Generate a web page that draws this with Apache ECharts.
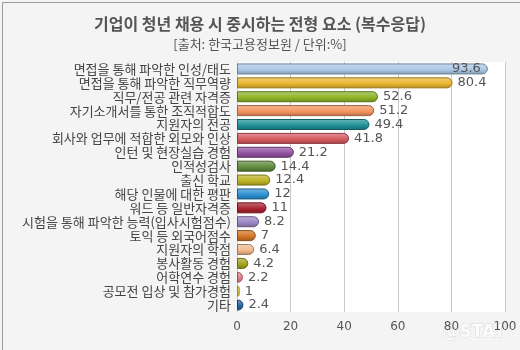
<!DOCTYPE html>
<html><head><meta charset="utf-8">
<script src="https://cdn.jsdelivr.net/npm/echarts@6/dist/echarts.min.js"></script>
<style>html,body{margin:0;padding:0;background:#f4f4f4}#c{width:520px;height:350px}</style>
</head><body><div id="c"></div>
<script>
const categories = ['면접을 통해 파악한 인성/태도','면접을 통해 파악한 직무역량','직무/전공 관련 자격증','자기소개서를 통한 조직적합도','지원자의 전공','회사와 업무에 적합한 외모와 인상','인턴 및 현장실습 경험','인적성검사','출신 학교','해당 인물에 대한 평판','워드 등 일반자격증','시험을 통해 파악한 능력(입사시험점수)','토익 등 외국어점수','지원자의 학점','봉사활동 경험','어학연수 경험','공모전 입상 및 참가경험','기타'];
const values = [93.6,80.4,52.6,51.2,49.4,41.8,21.2,14.4,12.4,12,11,8.2,7,6.4,4.2,2.2,1,2.4];
const colors = ['#a9c8e6','#e8b52c','#8db326','#f3935f','#1f9098','#d4595f','#92509e','#5f8a3c','#bcb223','#2a8fd0','#a8222f','#9a86c2','#d27424','#f2b88a','#a3a21e','#e77a89','#e9d83b','#2462a6'];
const tickLabels = [0,20,40,60,80,100];

function shade(hex, f){
  let r=parseInt(hex.slice(1,3),16),g=parseInt(hex.slice(3,5),16),b=parseInt(hex.slice(5,7),16);
  if(f>0){r+=(255-r)*f;g+=(255-g)*f;b+=(255-b)*f;}else{r*=1+f;g*=1+f;b*=1+f;}
  return 'rgb('+Math.round(r)+','+Math.round(g)+','+Math.round(b)+')';
}
const data = values.map((v,i)=>({
  value:v,
  itemStyle:{
    color:{type:'linear',x:0,y:0,x2:0,y2:1,colorStops:[
      {offset:0,color:shade(colors[i],0.35)},
      {offset:0.35,color:shade(colors[i],0.15)},
      {offset:0.6,color:colors[i]},
      {offset:1,color:shade(colors[i],-0.25)}]},
    borderColor:shade(colors[i],-0.35),borderWidth:1,borderRadius:[0,6,6,0]
  },
  label: i===0 ? {position:'insideRight',offset:[-2,0]} : undefined
}));
const chart = echarts.init(document.getElementById('c'),null,{renderer:'canvas'});
chart.setOption({
  backgroundColor:'#f4f4f4',
  animation:false,
  title:[
    {text:'기업이 청년 채용 시 중시하는 전형 요소 (복수응답)',left:'center',top:11,
     textStyle:{fontFamily:'Noto Sans CJK KR',fontSize:16,fontWeight:'bold',color:'#555'}},
    {text:'[출처: 한국고용정보원 / 단위:%]',left:'center',top:33,
     textStyle:{fontFamily:'Noto Sans CJK KR',fontSize:13,fontWeight:'normal',color:'#555'}}
  ],
  grid:{left:237,right:15,top:62,bottom:38,show:true,backgroundColor:'#ffffff',borderWidth:0},
  xAxis:{type:'value',min:0,max:100,interval:20,
    axisLine:{show:false},axisTick:{show:false},
    splitLine:{lineStyle:{color:'#c8c8c8',width:1}},
    axisLabel:{color:'#555',fontSize:12,fontFamily:'DejaVu Sans',margin:9,
      formatter:v=>tickLabels.includes(v)?String(v):''}},
  yAxis:{type:'category',data:categories,inverse:true,
    axisLine:{show:false},
    axisTick:{show:false},
    axisLabel:{color:'#444',fontSize:13,fontFamily:'Noto Sans CJK KR',margin:6,interval:0,lineHeight:13}},
  series:[{type:'bar',data:data,barWidth:11,
    label:{show:true,position:'right',distance:5,color:'#555',fontSize:13,fontFamily:'DejaVu Sans'}}],
  graphic:[
    {type:'rect',left:0,top:0,shape:{width:519,height:349},style:{fill:'none',stroke:'#9a9a9a',lineWidth:1},silent:true},
    {type:'text',right:14,bottom:8,style:{text:'@STAT',fill:'rgba(255,255,255,0.85)',stroke:'rgba(200,200,200,0.6)',lineWidth:1,font:'bold 17px DejaVu Sans'},silent:true}
  ]
});
</script></body></html>
